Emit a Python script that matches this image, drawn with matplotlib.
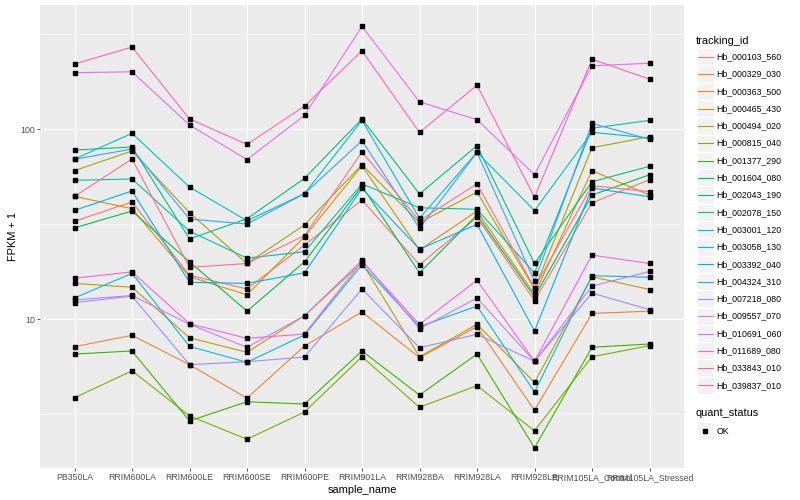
import matplotlib
matplotlib.use('Agg')
import matplotlib.pyplot as plt
from matplotlib.patches import Rectangle
from matplotlib.ticker import FixedLocator, NullFormatter

plt.rcParams['font.family'] = ['Liberation Sans', 'DejaVu Sans']

samples = ['PB350LA', 'RRIM600LA', 'RRIM600LE', 'RRIM600SE', 'RRIM600PE', 'RRIM901LA',
           'RRIM928BA', 'RRIM928LA', 'RRIM928LE', 'RRIM105LA_Control', 'RRIM105LA_Stressed']

tracking_ids = ['Hb_000103_560', 'Hb_000329_030', 'Hb_000363_500', 'Hb_000465_430',
                'Hb_000494_020', 'Hb_000815_040', 'Hb_001377_290', 'Hb_001604_080',
                'Hb_002043_190', 'Hb_002078_150', 'Hb_003001_120', 'Hb_003058_130',
                'Hb_003392_040', 'Hb_004324_310', 'Hb_007218_080', 'Hb_009557_070',
                'Hb_010691_060', 'Hb_011689_080', 'Hb_033843_010', 'Hb_039837_010']

# ggplot hue palette, 20 levels
colors = ['#F8766D', '#EA8331', '#D89000', '#C09B00', '#A3A500', '#7CAE00', '#39B600',
          '#00BB4E', '#00BF7D', '#00C1A3', '#00BFC4', '#00BAE0', '#00B0F6', '#35A2FF',
          '#9590FF', '#C77CFF', '#E76BF3', '#FA62DB', '#FF62BC', '#FF6C90']

# FPKM + 1 per sample (same order as samples)
hb_000103_560 = [32.7, 41.3, 17.0, 14.4, 24.5, 42.3, 19.3, 34.3, 12.5, 40.9, 54.1]
hb_000329_030 = [7.15, 8.21, 5.75, 3.83, 7.21, 10.9, 6.26, 9.11, 3.31, 10.7, 11.0]
hb_000363_500 = [44.2, 38.1, 16.7, 13.4, 27.1, 64.1, 23.1, 37.0, 13.5, 60.4, 44.9]
hb_000465_430 = [15.4, 14.7, 7.97, 6.68, 10.4, 19.8, 6.33, 9.38, 4.64, 16.7, 14.3]
hb_000494_020 = [60.4, 76.6, 36.3, 19.6, 31.3, 64.9, 32.1, 46.6, 14.4, 79.7, 91.1]
hb_000815_040 = [3.85, 5.34, 3.09, 2.33, 3.24, 6.33, 3.43, 4.46, 2.58, 6.33, 7.24]
hb_001377_290 = [6.54, 6.79, 2.91, 3.67, 3.57, 6.79, 3.98, 6.54, 2.10, 7.10, 7.39]
hb_001604_080 = [30.2, 37.0, 20.0, 11.0, 20.0, 50.1, 17.5, 35.3, 13.1, 44.9, 57.4]
hb_002043_190 = [77.5, 80.4, 26.4, 33.7, 55.0, 113, 45.5, 81.7, 19.6, 52.8, 63.6]
hb_002078_150 = [53.7, 54.6, 29.0, 20.9, 22.6, 51.4, 38.5, 37.8, 17.5, 101, 111]
hb_003001_120 = [69.5, 94.9, 49.5, 32.9, 45.7, 111, 33.9, 75.4, 37.2, 96.1, 89.7]
hb_003058_130 = [12.9, 17.4, 7.18, 5.92, 8.24, 19.3, 9.11, 11.7, 4.13, 16.9, 16.6]
hb_003392_040 = [37.3, 47.2, 15.6, 15.4, 17.5, 48.7, 23.3, 31.5, 8.65, 48.9, 44.0]
hb_004324_310 = [69.3, 78.5, 33.6, 31.6, 45.7, 86.8, 30.0, 75.4, 15.8, 107, 88.3]
hb_007218_080 = [12.2, 13.2, 5.75, 5.96, 6.31, 14.4, 7.06, 8.31, 5.99, 13.7, 11.2]
hb_009557_070 = [12.6, 13.3, 9.38, 7.10, 10.4, 20.4, 8.89, 12.9, 5.99, 14.9, 17.8]
hb_010691_060 = [198, 200, 105, 69, 118, 347, 139, 112, 57.5, 215, 222]
hb_011689_080 = [16.4, 17.7, 9.45, 7.91, 8.34, 20.1, 9.38, 16.0, 5.99, 21.7, 19.6]
hb_033843_010 = [220, 270, 113, 83, 132, 258, 96, 170, 43.7, 233, 183]
hb_039837_010 = [44.2, 69.5, 18.7, 19.6, 27.5, 75.7, 32.9, 51.5, 14.6, 50.3, 46.8]

series = [hb_000103_560, hb_000329_030, hb_000363_500, hb_000465_430, hb_000494_020,
          hb_000815_040, hb_001377_290, hb_001604_080, hb_002043_190, hb_002078_150,
          hb_003001_120, hb_003058_130, hb_003392_040, hb_004324_310, hb_007218_080,
          hb_009557_070, hb_010691_060, hb_011689_080, hb_033843_010, hb_039837_010]

fig = plt.figure(figsize=(8, 5), dpi=100)
ax = fig.add_axes([40 / 800, 1 - 468 / 500, 644 / 800, 463 / 500])
ax.set_facecolor('#EBEBEB')
for s in ax.spines.values():
    s.set_visible(False)

x = list(range(len(samples)))
for vals, c in zip(series, colors):
    ax.plot(x, vals, color=c, lw=0.8, zorder=2)
for vals in series:
    ax.plot(x, vals, ls='none', marker='s', ms=2.6, color='black', zorder=3)

ax.set_yscale('log')
ax.set_xlim(-0.6, 10.6)
ax.set_ylim(1.644, 449.5)
ax.set_xticks(x)
ax.set_xticklabels(samples)
ax.yaxis.set_major_locator(FixedLocator([10, 100]))
ax.set_yticklabels(['10', '100'])
ax.yaxis.set_minor_locator(FixedLocator([10 ** 0.5, 10 ** 1.5, 10 ** 2.5]))
ax.yaxis.set_minor_formatter(NullFormatter())
ax.grid(True, which='major', color='white', lw=0.8)
ax.grid(True, which='minor', axis='y', color='white', lw=0.4)
ax.set_axisbelow(True)
ax.tick_params(which='major', length=2, width=0.6, color='#333333',
               labelcolor='#4D4D4D', labelsize=6.3, pad=1.6)
ax.tick_params(which='minor', length=0)
ax.set_xlabel('sample_name', fontsize=7.9, labelpad=2)
ax.set_ylabel('FPKM + 1', fontsize=7.9, labelpad=1.5)

# legend drawn in figure pixel coordinates
lax = fig.add_axes([0, 0, 1, 1], zorder=-1)
lax.set_xlim(0, 800)
lax.set_ylim(500, 0)
lax.axis('off')

lax.text(696, 40.7, 'tracking_id', fontsize=7.9, va='center', ha='left')
y0 = 56.7
step = 17.3
for i, (tid, c) in enumerate(zip(tracking_ids, colors)):
    yy = y0 + i * step
    lax.add_patch(Rectangle((696.5, yy - step / 2), step, step,
                            fc='#F2F2F2', ec='white', lw=1))
    lax.plot([698, 713], [yy, yy], color=c, lw=0.8)
    lax.text(716.7, yy, tid, fontsize=6.3, va='center', ha='left')

lax.text(696, 413, 'quant_status', fontsize=7.9, va='center', ha='left')
yy = 431
lax.add_patch(Rectangle((696.5, yy - step / 2), step, step, fc='#F2F2F2', ec='white', lw=1))
lax.plot([705.2], [yy], ls='none', marker='s', ms=2.6, color='black')
lax.text(716.7, yy, 'OK', fontsize=6.3, va='center', ha='left')

fig.savefig('out.png', dpi=100)
